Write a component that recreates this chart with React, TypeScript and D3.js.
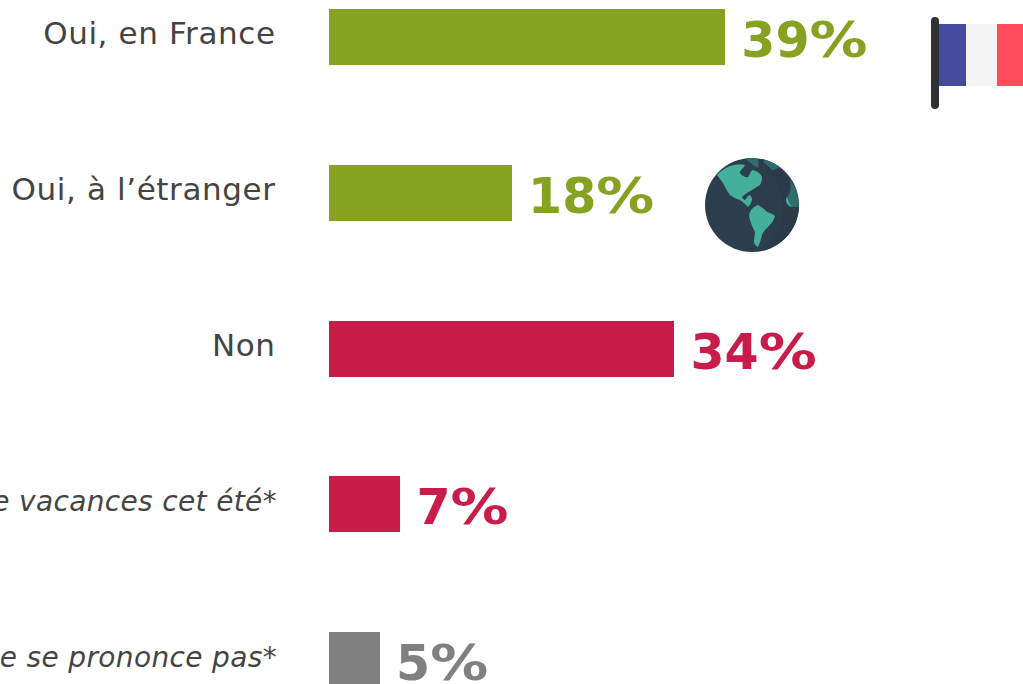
import React from "react";
import * as d3 from "d3";

const categories = ["Oui, en France", "Oui, à l’étranger", "Non", "Non, je ne prends pas de vacances cet été*", "Ne se prononce pas*"];
const values = [39, 18, 34, 7, 5];
const colors = ["#87a220", "#87a220", "#c81d49", "#c81d49", "#808080"];
const italics = [false, false, false, true, true];

const W = 1023, H = 684;
const FONT = "'DejaVu Sans', Verdana, sans-serif";

const x = d3.scaleLinear().domain([0, 39]).range([329, 725]);
const y = d3.scaleBand<number>().domain(d3.range(5)).range([-40.9, 738.1]).paddingInner(0.64).paddingOuter(0.32);

function Flag() {
  return (
    <g>
      <rect x={938} y={24} width={28} height={62} fill="#444b9f" />
      <rect x={966} y={24} width={31} height={62} fill="#f3f3f4" />
      <rect x={997} y={24} width={26} height={62} fill="#ff4c5a" />
      <rect x={931} y={17} width={8} height={92} rx={4} fill="#2f3135" />
    </g>
  );
}

function Globe() {
  return (
    <g>
      <defs>
        <clipPath id="globe-clip"><circle cx={752} cy={205} r={47} /></clipPath>
      </defs>
      <circle cx={752} cy={205} r={47} fill="#2c3e4e" />
      <g clipPath="url(#globe-clip)">
        <path d="M760 158 C775 163 790 175 799 205 L799 252 L760 252 C785 235 795 195 760 158 Z" fill="#2a3a49" />
        <path d="M717 175 C722 170 728 166 734 165 C738 164 742 164 745 165 C743 169 739 171 740 173 C742 176 746 178 748 177 C750 175 750 171 753 170 C757 171 761 174 762 177 C762 181 761 183 760 185 C757 187 755 188 752 190 C748 192 745 194 742 197 C743 199 744 200 745 200 C747 198 748 195 750 195 C752 197 752 199 752 200 C751 203 750 205 748 207 C745 204 743 202 740 200 C736 199 733 197 730 195 C727 191 725 187 723 183 C721 180 719 178 717 175 Z" fill="#45b09a" />
        <path d="M750 212 C752 208 755 206 758 205 C762 207 765 210 767 212 C770 213 773 214 775 216 C774 220 771 224 768 227 C765 230 763 232 762 235 C761 239 760 243 758 247 C756 246 754 244 754 242 C754 238 755 235 755 232 C753 228 751 224 750 220 C749 217 749 214 750 212 Z" fill="#45b09a" />
        <path d="M745 158 C750 157 754 157 757 158 C759 161 759 165 758 168 C754 166 749 162 745 158 Z" fill="#2d6e6b" />
        <path d="M763 161 C768 158 775 160 782 165 C778 168 775 170 772 170 C769 167 765 164 763 161 Z" fill="#2d6e6b" />
        <path d="M790 180 C795 186 799 196 799 207 L792 207 C788 205 786 200 787 197 C790 194 792 187 790 180 Z" fill="#2d6e6b" />
        <path d="M787 197 C788 201 790 204 792 207 C788 206 786 203 786 200 C786 199 786 198 787 197 Z" fill="#45b09a" />
      </g>
    </g>
  );
}

export default function App() {
  return (
    <svg width={W} height={H} viewBox={`0 0 ${W} ${H}`} style={{ position: "absolute", left: 0, top: 0, background: "#fff" }}>
      {values.map((v, i) => {
        const top = Math.round(y(i) as number);
        const h = Math.round(y.bandwidth());
        const cy = top + h / 2;
        const it = italics[i];
        return (
          <g key={i}>
            <text x={it ? 277 : 275.6} y={cy + 7} textAnchor="end" fontFamily={FONT} fontSize={it ? 28 : 31} letterSpacing={it ? 0.35 : 0.6} fontStyle={it ? "italic" : "normal"} fill="#444444">
              {categories[i]}
            </text>
            <rect x={x(0)} y={top} width={Math.round(x(v) - x(0))} height={h} fill={colors[i]} />
            <text x={x(v) + 16.3} y={cy + 20} fontFamily={FONT} fontSize={49} fontWeight="bold" fill={colors[i]}>
              {String(v)}
              <tspan textLength={58} lengthAdjust="spacingAndGlyphs">%</tspan>
            </text>
          </g>
        );
      })}
      <Flag />
      <Globe />
    </svg>
  );
}
